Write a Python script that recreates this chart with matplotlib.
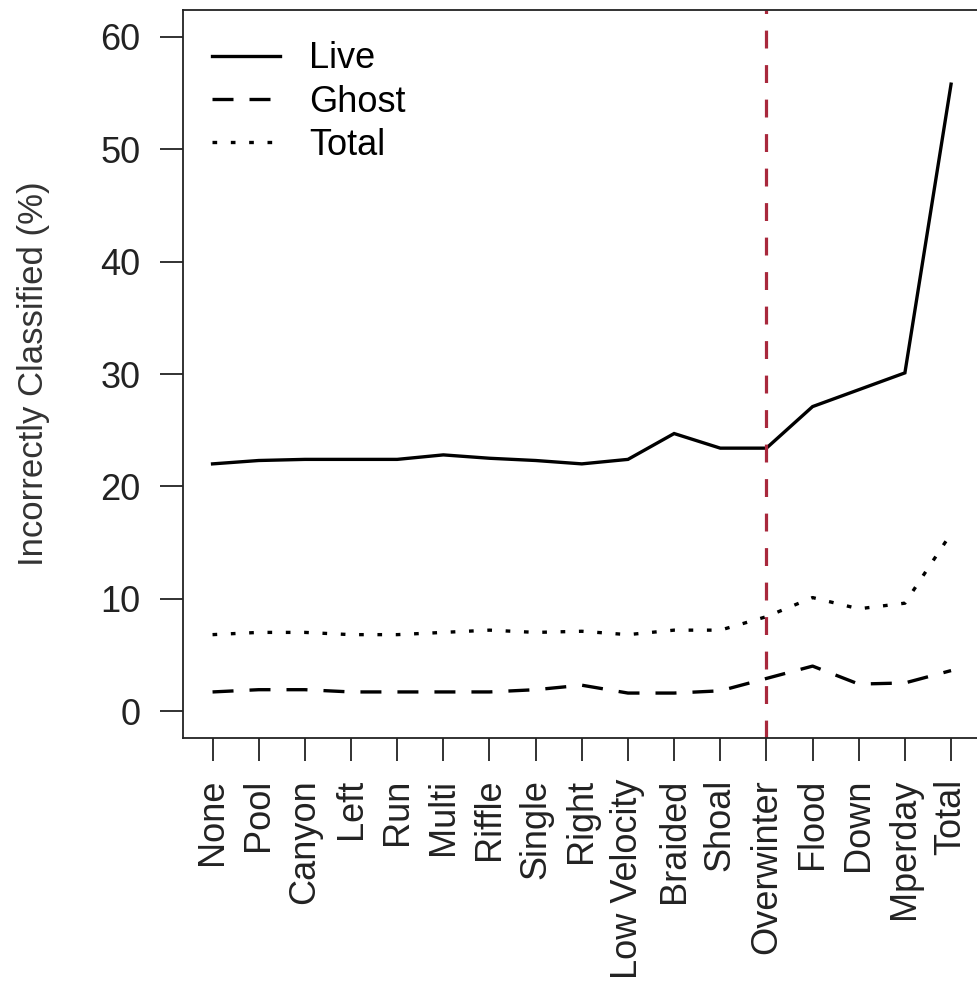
import matplotlib
matplotlib.use('Agg')
import matplotlib.pyplot as plt

plt.rcParams['font.family'] = ['Liberation Sans', 'DejaVu Sans']

# data
categories = ['None', 'Pool', 'Canyon', 'Left', 'Run', 'Multi', 'Riffle', 'Single',
              'Right', 'Low Velocity', 'Braided', 'Shoal', 'Overwinter', 'Flood',
              'Down', 'Mperday', 'Total']
live = [22.0, 22.3, 22.4, 22.4, 22.4, 22.8, 22.5, 22.3, 22.0, 22.4, 24.7, 23.4,
        23.4, 27.1, 28.6, 30.1, 55.8]
ghost = [1.7, 1.9, 1.9, 1.7, 1.7, 1.7, 1.7, 1.9, 2.3, 1.6, 1.6, 1.8, 2.9, 4.0,
         2.4, 2.5, 3.6]
total = [6.8, 7.0, 7.0, 6.8, 6.8, 7.0, 7.2, 7.0, 7.1, 6.8, 7.2, 7.2, 8.4, 10.1,
         9.1, 9.6, 15.8]
cutoff = 'Overwinter'

x = list(range(1, len(categories) + 1))

fig = plt.figure(figsize=(9.77, 9.88), dpi=100)
ax = fig.add_axes([183 / 977, 250 / 988, (980.6 - 183) / 977, 728 / 988])

lw = 2.4
ax.plot(x, live, color='black', lw=lw, label='Live', solid_joinstyle='miter')
ax.plot(x, ghost, color='black', lw=lw, dashes=(6.3, 4.8), label='Ghost')
ax.plot(x, total, color='black', lw=lw, dashes=(1.4, 4.1), label='Total')
ax.axvline(categories.index(cutoff) + 1, color='#A8283C', lw=2.3, dashes=(5.6, 5.2))

ax.set_xlim(0.36, 17.64)
ax.set_ylim(-2.4, 62.4)
ax.set_yticks([0, 10, 20, 30, 40, 50, 60])
ax.set_xticks(x)
ax.set_xticklabels(categories, rotation=90, va='top', ha='center')

ax.tick_params(axis='both', direction='out', length=16.5, width=1.3,
               labelsize=26, colors='#222222')
ax.tick_params(axis='y', pad=14)
ax.tick_params(axis='x', pad=13)
for s in ax.spines.values():
    s.set_linewidth(1.3)
    s.set_color('#222222')

ax.set_ylabel('Incorrectly Classified (%)', fontsize=25, color='#333333', labelpad=36)

ax.legend(loc='upper left', bbox_to_anchor=(0.036, 0.957), frameon=False,
          fontsize=26, handlelength=1.9, handletextpad=0.8, labelspacing=0.23,
          borderpad=0, borderaxespad=0)

fig.savefig('out.png', dpi=100)
